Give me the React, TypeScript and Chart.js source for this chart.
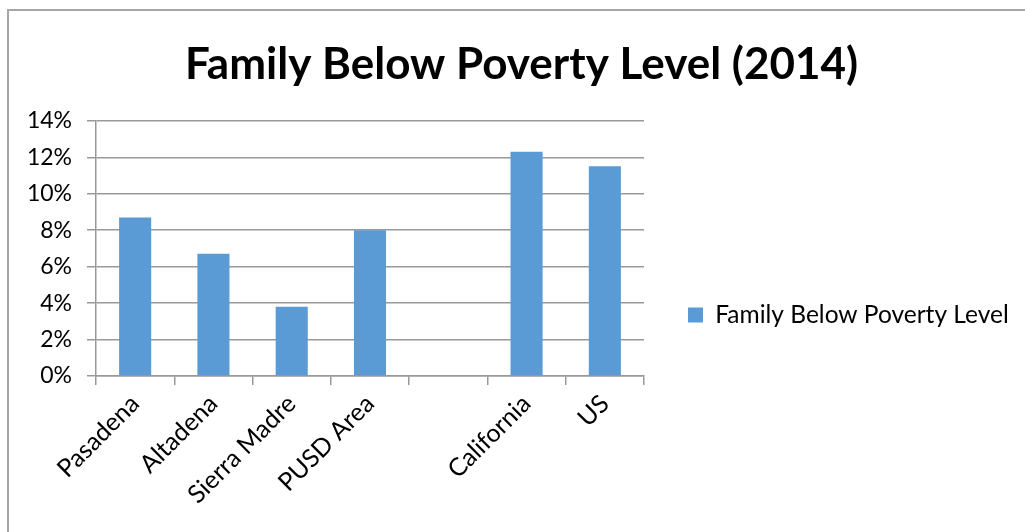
import React, { useEffect, useRef } from "react";
import { Chart, registerables } from "chart.js";

Chart.register(...registerables);

const chartTitle = "Family Below Poverty Level (2014)";
const seriesName = "Family Below Poverty Level";
const categories = ["Pasadena", "Altadena", "Sierra Madre", "PUSD Area", "", "California", "US"];
const values: (number | null)[] = [8.7, 6.7, 3.8, 8.0, null, 12.3, 11.5];
const yTickValues = [0, 2, 4, 6, 8, 10, 12, 14];

const FONT = "Lato, 'Noto Sans', sans-serif";
const GRID = "#999999";

export default function App() {
  const ref = useRef<HTMLCanvasElement>(null);

  useEffect(() => {
    document.body.style.margin = "0";
    const canvas = ref.current;
    if (!canvas) return;

    const framePlugin = {
      id: "frame",
      beforeDraw(chart: any) {
        const ctx = chart.ctx;
        ctx.save();
        ctx.strokeStyle = "#a6a6a6";
        ctx.lineWidth = 2;
        ctx.beginPath();
        ctx.moveTo(8, chart.height);
        ctx.lineTo(8, 10);
        ctx.lineTo(chart.width, 10);
        ctx.stroke();
        ctx.restore();
      },
    };

    // Place the legend to the right of the plot (like Excel) and nudge the title centre.
    const placementPlugin = {
      id: "placement",
      afterLayout(chart: any) {
        const lg = chart.legend;
        if (lg) {
          const h = 200;
          lg.maxWidth = chart.width;
          lg.maxHeight = h;
          lg.fit();
          const left = chart.chartArea.right + 34;
          const centerY = 315;
          lg.left = left;
          lg.right = left + lg.width;
          lg.top = centerY - h / 2;
          lg.bottom = centerY + h / 2;
          lg.height = h;
        }
        const t = chart.titleBlock;
        if (t) {
          const shift = chart.width / 2 + 9 - (t.left + t.right) / 2;
          t.left += shift;
          t.right += shift;
        }
      },
    };

    const chart = new Chart(canvas, {
      type: "bar",
      data: {
        labels: categories,
        datasets: [
          {
            label: seriesName,
            data: values,
            backgroundColor: "#5b9bd5",
            borderWidth: 0,
            barPercentage: 0.41,
            categoryPercentage: 1,
          },
        ],
      },
      options: {
        responsive: false,
        animation: false,
        layout: { padding: { left: 8, right: 169, top: 0, bottom: 0 } },
        plugins: {
          title: {
            display: true,
            text: chartTitle,
            color: "#000",
            font: { family: FONT, size: 44, weight: "bold", lineHeight: 1.2 },
            padding: { top: 38, bottom: 30 },
          },
          legend: {
            display: true,
            position: "right",
            align: "center",
            labels: {
              color: "#000",
              font: { family: FONT, size: 24.5 },
              boxWidth: 15,
              boxHeight: 15,
              padding: 10,
            },
          },
          tooltip: { enabled: false },
        },
        scales: {
          x: {
            afterFit(scale: any) {
              scale.height = 156;
            },
            grid: {
              display: true,
              drawOnChartArea: false,
              drawTicks: true,
              tickLength: 9,
              color: GRID,
              lineWidth: 1.5,
            },
            border: { display: true, color: GRID, width: 1.5 },
            ticks: {
              color: "#000",
              font: { family: FONT, size: 25 },
              autoSkip: false,
              maxRotation: 45,
              minRotation: 45,
              padding: 4,
            },
          },
          y: {
            min: 0,
            max: 14,
            afterFit(scale: any) {
              scale.width = 88;
            },
            afterBuildTicks(scale: any) {
              scale.ticks = yTickValues.map((v) => ({ value: v }));
            },
            grid: {
              display: true,
              drawOnChartArea: true,
              drawTicks: true,
              tickLength: 9,
              color: GRID,
              lineWidth: 1.5,
            },
            border: { display: true, color: GRID, width: 1.5 },
            ticks: {
              color: "#000",
              font: { family: FONT, size: 23 },
              padding: 15,
              callback: (v: any) => `${v}%`,
            },
          },
        },
      },
      plugins: [framePlugin, placementPlugin],
    });

    return () => chart.destroy();
  }, []);

  return <canvas ref={ref} width={1025} height={532} style={{ display: "block" }} />;
}
